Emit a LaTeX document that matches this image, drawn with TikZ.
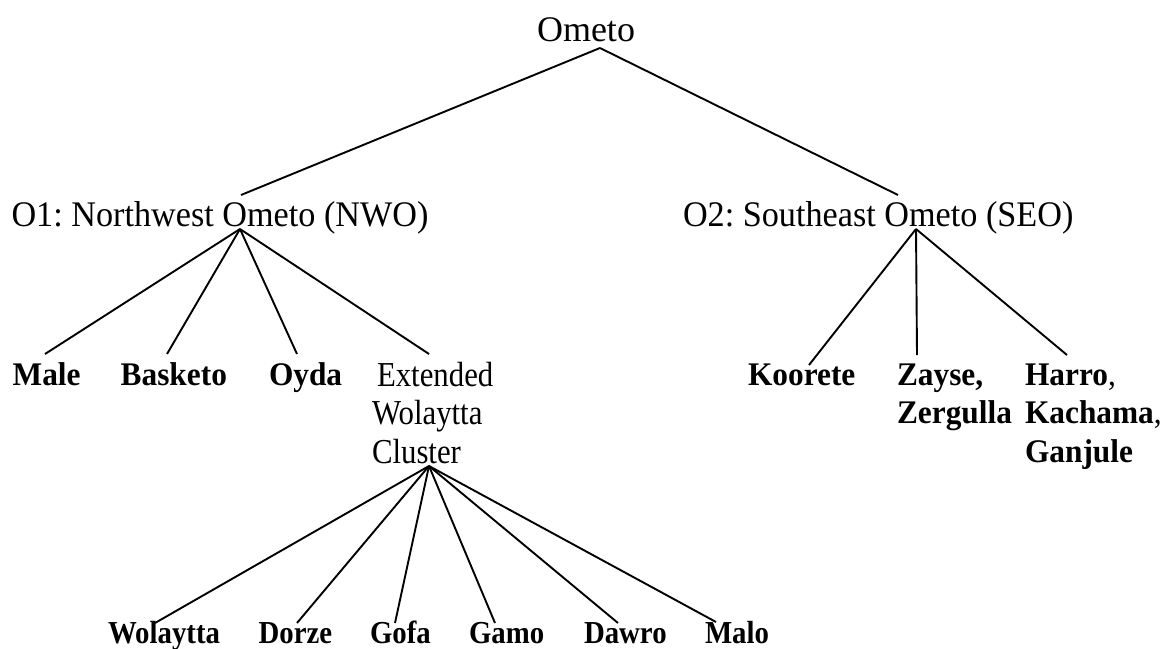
\documentclass[tikz,border=0pt]{standalone}
\usepackage{fontspec}
\setmainfont{Liberation Serif}
\newfontfamily\fontRoot{Liberation Serif}
\newfontfamily\fontGroup[FakeStretch=0.95]{Liberation Serif}
\newfontfamily\fontClus[FakeStretch=0.88]{Liberation Serif}
\newfontfamily\fontMid[FakeStretch=0.95]{Liberation Serif}
\newfontfamily\fontLeaf[FakeStretch=0.9]{Liberation Serif}
\frenchspacing
\begin{document}
\begin{tikzpicture}[x=1pt,y=-1pt,
  lbl/.style={inner sep=0pt, outer sep=0pt, anchor=base west},
  rootlbl/.style={lbl, font=\fontsize{36}{40}\selectfont\fontRoot},
  grouplbl/.style={lbl, font=\fontsize{36}{40}\selectfont\fontGroup},
  cluslbl/.style={inner sep=0pt, outer sep=0pt, anchor=north west, align=left, font=\fontsize{35}{38.5}\selectfont\fontClus},
  boldlbl/.style={lbl, font=\fontsize{33}{38.5}\selectfont\fontMid\bfseries},
  boldblk/.style={inner sep=0pt, outer sep=0pt, anchor=north west, align=left, font=\fontsize{33}{38.5}\selectfont\fontMid\bfseries},
  leaflbl/.style={lbl, font=\fontsize{32}{36}\selectfont\fontLeaf\bfseries},
  conn/.style={draw=black, line width=1.9pt}]
\useasboundingbox (0,0) rectangle (1166,648);
% nodes
\node[rootlbl] (ometo) at (537,41.5) {Ometo};
\node[grouplbl] (nwo) at (11.5,226.5) {O1: Northwest Ometo (NWO)};
\node[grouplbl] (seo) at (683,226.5) {O2: Southeast Ometo (SEO)};
\node[boldlbl] (male) at (12.7,385) {Male};
\node[boldlbl] (basketo) at (120.7,385) {Basketo};
\node[boldlbl] (oyda) at (269,385) {Oyda};
\node[cluslbl] (ewc) at (372,362) {\hspace*{5pt}Extended\\Wolaytta\\Cluster};
\node[boldlbl] (koorete) at (748,385) {Koorete};
\node[boldblk] (zayse) at (897,363.5) {Zayse,\\Zergulla};
\node[boldblk] (harro) at (1025,363.5) {Harro{\mdseries,}\\Kachama{\mdseries,}\\Ganjule};
\node[leaflbl] (wolaytta) at (108,643) {Wolaytta};
\node[leaflbl] (dorze) at (258.6,643) {Dorze};
\node[leaflbl] (gofa) at (370,643) {Gofa};
\node[leaflbl] (gamo) at (469,643) {Gamo};
\node[leaflbl] (dawro) at (584,643) {Dawro};
\node[leaflbl] (malo) at (705,643) {Malo};
% branching points
\coordinate (ometo-b) at ([xshift=63pt,yshift=-6.5pt]ometo.base west);
\coordinate (nwo-b) at ([xshift=228.5pt,yshift=-2.5pt]nwo.base west);
\coordinate (seo-b) at ([xshift=233pt,yshift=-2.5pt]seo.base west);
\coordinate (ewc-b) at ([xshift=57pt,yshift=-104pt]ewc.north west);
% connectors
\draw[conn] (ometo-b) -- ([xshift=229.5pt,yshift=31.5pt]nwo.base west);
\draw[conn] (ometo-b) -- ([xshift=215pt,yshift=31.5pt]seo.base west);
\draw[conn] (nwo-b) -- ([xshift=32.3pt,yshift=31pt]male.base west);
\draw[conn] (nwo-b) -- ([xshift=46.3pt,yshift=31pt]basketo.base west);
\draw[conn] (nwo-b) -- ([xshift=28pt,yshift=31pt]oyda.base west);
\draw[conn] (nwo-b) -- ([xshift=57pt,yshift=8pt]ewc.north west);
\draw[conn] (seo-b) -- ([xshift=61pt,yshift=20pt]koorete.base west);
\draw[conn] (seo-b) -- ([xshift=20pt,yshift=8.5pt]zayse.north west);
\draw[conn] (seo-b) -- ([xshift=42pt,yshift=8.5pt]harro.north west);
\draw[conn] (ewc-b) -- ([xshift=47pt,yshift=20pt]wolaytta.base west);
\draw[conn] (ewc-b) -- ([xshift=38.4pt,yshift=20pt]dorze.base west);
\draw[conn] (ewc-b) -- ([xshift=25pt,yshift=20pt]gofa.base west);
\draw[conn] (ewc-b) -- ([xshift=26pt,yshift=20pt]gamo.base west);
\draw[conn] (ewc-b) -- ([xshift=34pt,yshift=20pt]dawro.base west);
\draw[conn] (ewc-b) -- ([xshift=11pt,yshift=21pt]malo.base west);
\end{tikzpicture}
\end{document}
